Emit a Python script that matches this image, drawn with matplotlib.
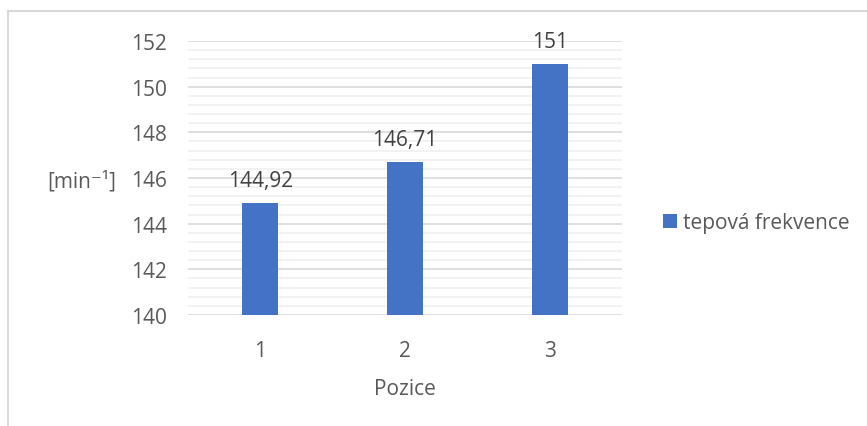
import matplotlib.pyplot as plt
from matplotlib.lines import Line2D
from matplotlib.ticker import MultipleLocator

plt.rcParams['font.family'] = ['Open Sans', 'DejaVu Sans']

pozice = ['1', '2', '3']
tepova_frekvence = [144.92, 146.71, 151]
popisky = ['144,92', '146,71', '151']

txt = '#595959'
modra = '#4472c4'
fs = 15

fig = plt.figure(figsize=(8.67, 4.27), dpi=100)
ax = fig.add_axes([188 / 867, 1 - 316 / 427, 434 / 867, 274 / 427])

x = range(len(pozice))
ax.bar(x, tepova_frekvence, width=0.25, color=modra, zorder=3,
       label='tepová frekvence', bottom=0)
for xi, v, s in zip(x, tepova_frekvence, popisky):
    ax.annotate(s, (xi, v), xytext=(0, 16), textcoords='offset points',
                ha='center', va='center', fontsize=fs, color='#404040')

ax.set_xlim(-0.5, 2.5)
ax.set_ylim(140, 152)
ax.yaxis.set_major_locator(MultipleLocator(2))
ax.yaxis.set_minor_locator(MultipleLocator(0.4))
ax.set_xticks(list(x))
ax.set_xticklabels(pozice)
ax.grid(axis='y', which='major', color='#d9d9d9', lw=1.2, zorder=1)
ax.grid(axis='y', which='minor', color='#f0f0f0', lw=1.2, zorder=0)
ax.tick_params(axis='both', which='both', length=0, labelsize=fs,
               colors=txt)
ax.tick_params(axis='y', pad=15)
ax.tick_params(axis='x', pad=18)
for s in ax.spines.values():
    s.set_visible(False)

ax.set_xlabel('Pozice', fontsize=fs, color=txt, labelpad=12)
fig.text(82 / 867, 1 - 182 / 427, '[min⁻¹]', fontsize=fs, color=txt,
         ha='center', va='center')

ax.legend(loc='center left', bbox_to_anchor=(663 / 867, 1 - 224 / 427),
          bbox_transform=fig.transFigure, frameon=False, fontsize=fs,
          labelcolor=txt, handlelength=0.65, handleheight=0.65,
          handletextpad=0.3, borderpad=0, borderaxespad=0)

# rámeček grafu
fig.add_artist(Line2D([8 / 867, 8 / 867], [0, 1 - 12 / 427],
                      transform=fig.transFigure, color='#d9d9d9', lw=1.5))
fig.add_artist(Line2D([8 / 867, 1], [1 - 12 / 427, 1 - 12 / 427],
                      transform=fig.transFigure, color='#d9d9d9', lw=1.5))

fig.savefig('out.png', dpi=100)
